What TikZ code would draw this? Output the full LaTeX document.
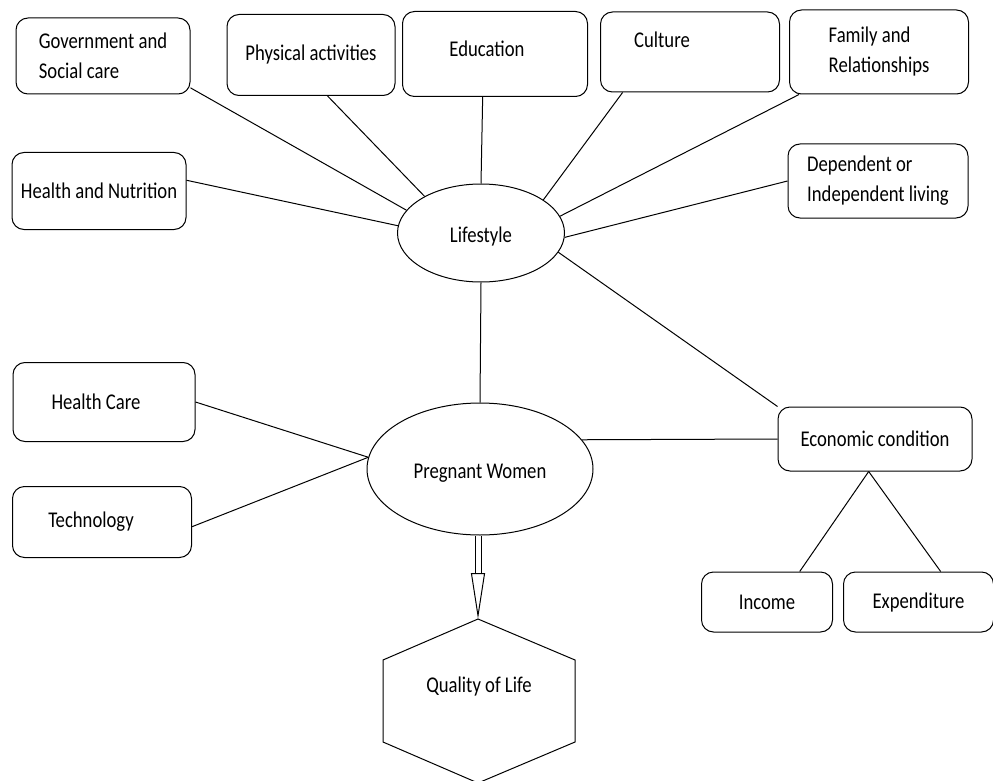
\documentclass[tikz,border=0pt]{standalone}
\usepackage{fontspec}
\setmainfont{Carlito}[FakeStretch=0.83]
\usetikzlibrary{positioning}
\usetikzlibrary{shapes.geometric,arrows.meta}

\begin{document}
\begin{tikzpicture}[x=1pt,y=-1pt,line width=1pt,
  font=\fontsize{22.5}{30}\selectfont,
  box/.style={draw,rounded corners=12pt,inner sep=0pt,align=left},
  ell/.style={draw,ellipse,inner sep=0pt,text height=18pt,text depth=0pt}]
        \useasboundingbox (0,0) rectangle (993,781);
        % top row
        \node[box,minimum width=174pt,minimum height=76pt](gov) at (103,56){Government and\\Social care};
        \node[box,minimum width=168pt,minimum height=81pt](phys) at (311,55){Physical activities};
        \node[box,minimum width=185pt,minimum height=85pt,text height=16pt,text depth=10pt](edu) at (495,54){Education\hspace{16pt}};
        \node[box,minimum width=179pt,minimum height=80pt,inner ysep=0pt,text height=36pt,text depth=44pt](cult) at (690,52){Culture\hspace{56pt}};
        \node[box,minimum width=179pt,minimum height=84pt](fam) at (879,52){Family and\\Relationships};
        \node[box,minimum width=180pt,minimum height=74pt](dep) at (878,181){Dependent or\\Independent living};
        \node[box,minimum width=174pt,minimum height=77pt](hn) at (99,191){Health and Nutrition};
        %
        \node[ell,minimum width=167pt,minimum height=98pt](life) at (481,233){Lifestyle};
        \node[ell,minimum width=226pt,minimum height=132pt](preg) at (480,469){Pregnant Women};
        %
        \node[box,minimum width=182pt,minimum height=79pt](hc) at (104,402){Health Care\hspace{16pt}};
        \node[box,minimum width=179pt,minimum height=71pt](tech) at (102,522){Technology\hspace{22pt}};
        \node[box,minimum width=194pt,minimum height=64pt](econ) at (875,439){Economic condition};
        \node[box,minimum width=131pt,minimum height=60pt](inc) at (767,602){Income};
        \node[box,minimum width=150pt,minimum height=60pt,right=10pt of inc](exp){Expenditure};
        %
        \coordinate (hextop) at (478,619);
        \draw (hextop) -- (575,660) -- (575,742) -- (478,783) -- (383,742) -- (383,660) -- cycle;
        \node(qol) at (479,686){Quality of Life};
        %
        \draw (life.163) -- (gov.-20);
        \draw (life.147) -- (phys.-68);
        \draw (life.north) -- (edu.-106);
        \draw (life.28) -- (cult.-149);
        \draw (life.12) -- (fam.-152);
        \draw (life.-3) -- (dep.west);
        \draw (life.175) -- (hn.7);
        \draw (life.-14) -- (econ.north west);
        \draw (life.south) -- (preg.north);
        \draw (preg.174) -- (hc.east);
        \draw (preg.174) -- (tech.-3);
        \draw (preg.16) -- (econ.west);
        \draw (econ.-101) -- (inc.43);
        \draw (econ.-101) -- (exp.54);
        %
        \draw[double,double distance=5pt,-{Triangle[open,length=46pt,width=14pt]}] (preg.south -| hextop) -- (hextop);
    \end{tikzpicture}
\end{document}
